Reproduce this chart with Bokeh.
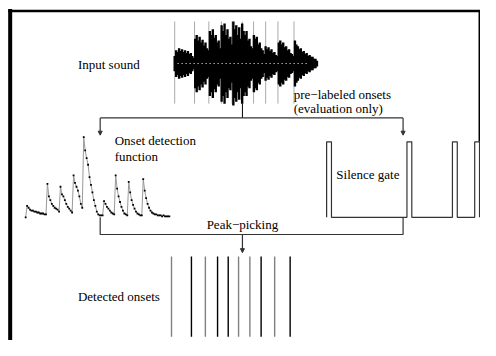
from bokeh.plotting import figure
from bokeh.models import Range1d, Arrow, NormalHead
from bokeh.core.properties import value
from bokeh.embed import file_html
from bokeh.resources import INLINE

# ---------------- data ----------------
# waveform envelope (amplitude), uniformly sampled over the sound
wave_amp = [8, 14, 12, 16, 13, 15, 12, 14, 11, 13, 10, 11, 8, 6,
            26, 30, 24, 28, 22, 25, 19, 22, 16, 14,
            34, 30, 36, 27, 30, 22, 24, 16,
            40, 34, 42, 30, 36, 26, 28, 20,
            44, 36, 40, 30, 38, 26, 42,
            34, 30, 34, 24, 26, 18, 16,
            30, 26, 28, 20, 22, 16, 14, 10,
            18, 15, 17, 13, 15, 11, 12, 9, 8,
            22, 24, 20, 22, 17, 18, 14, 15, 11, 10, 8,
            24, 20, 18, 15, 16, 12, 13, 10, 11, 8, 9, 7, 7, 5, 5, 3]
# pre-labeled onset times (frames from sound start)
labeled_onsets = [0, 20.5, 35.3, 48.3, 59.3, 70, 81.5, 94, 106.7, 123.3]
# detected onset times (frames from sound start)
detected_onsets = [-3.3, 17.3, 31.7, 44.3, 55.3, 66, 77.7, 89.3, 103.3, 119.3]
detected_kind = ["g", "k", "g", "k", "k", "g", "g", "k", "g", "k"]
# onset detection function values
odf_values = [0, 12, 10, 8, 7, 7, 6, 6, 5, 5, 4, 4, 4, 3, 3,
              35, 22, 18, 14, 12, 10, 9, 8, 6,
              32, 24, 22, 18, 14, 11, 9, 7, 5,
              44, 36, 32, 28, 22, 14, 10,
              84, 70, 62, 55, 42, 34, 26, 18, 12, 6, 3, 2, 2, 2,
              17, 14, 11, 9, 7, 5, 4, 3,
              44, 30, 22, 16, 11, 7, 4, 3, 2,
              37, 26, 18, 13, 9, 6, 4, 3, 2, 2,
              40, 28, 20, 14, 10, 7, 5, 4, 3, 3, 2, 2, 2, 1, 2, 1, 1, 1, 1]
# silence gate open intervals (frames)
gate_open = [(0, 5), (83, 88), (130, 135), (153, 158)]

# ---------------- layout constants ----------------
W_X0, W_Y0 = 180.0, 66.0
W_DX = 147.0 / (len(wave_amp) - 1)
ODF_X0, ODF_BASE, ODF_DX = 26.0, 227.0, 1.5
G_X0, G_LO, G_HI = 337.0, 227.0, 148.0
DARK = "#333333"
FONT = value("Liberation Serif")
FS = "13px"

p = figure(width=480, height=340, x_range=Range1d(0, 496), y_range=Range1d(356, 0),
           output_backend="svg", toolbar_location=None, min_border=0)
p.axis.visible = False
p.grid.visible = False
p.outline_line_color = None
p.background_fill_color = "white"

# frame
p.line([10, 10], [9, 360], line_color="black", line_width=4)
p.line([8, 500], [11, 11], line_color="black", line_width=2.5)
p.line([495, 495], [10, 148], line_color="black", line_width=2)

# pre-labeled onsets (under waveform)
lx = [W_X0 + t for t in labeled_onsets]
p.segment(x0=lx, y0=[22] * len(lx), x1=lx, y1=[108] * len(lx), line_color="#aaaaaa", line_width=1)

# waveform
wx = [W_X0 + i * W_DX for i in range(len(wave_amp))]
p.segment(x0=wx, y0=[W_Y0 - a for a in wave_amp], x1=wx, y1=[W_Y0 + a for a in wave_amp],
          line_color="black", line_width=2.4)
p.line([W_X0 + 3, W_X0 + 138], [W_Y0, W_Y0], line_color="white", line_width=1, line_dash="1 3")

# connections from sound
p.line([250, 250], [108, 123], line_color="black", line_width=1)
p.line([103, 416], [123, 123], line_color=DARK, line_width=1.2)
for xx in (103, 416):
    p.add_layout(Arrow(end=NormalHead(size=4, fill_color=DARK, line_color=DARK),
                       x_start=xx, y_start=123, x_end=xx, y_end=141,
                       line_color=DARK, line_width=1.2))

# onset detection function
ox = [ODF_X0 + i * ODF_DX for i in range(len(odf_values))]
oy = [ODF_BASE - v for v in odf_values]
p.line(ox, oy, line_color="#999999", line_width=1)
p.scatter(ox, oy, marker="square", size=1.8, fill_color="black", line_color=None)

# silence gate
gx, gy = [], []
for a, b in gate_open:
    gx += [G_X0 + a, G_X0 + a, G_X0 + b, G_X0 + b]
    gy += [G_LO, G_HI, G_HI, G_LO]
p.line(gx, gy, line_color=DARK, line_width=1.2)

# peak picking bracket
p.line([103, 103, 416, 416], [227, 245, 245, 227], line_color=DARK, line_width=1.2)
p.add_layout(Arrow(end=NormalHead(size=4, fill_color=DARK, line_color=DARK),
                   x_start=250, y_start=245, x_end=250, y_end=264,
                   line_color=DARK, line_width=1.2))

# detected onsets
dx = [W_X0 + t for t in detected_onsets]
cols = ["#808080" if k == "g" else "black" for k in detected_kind]
p.segment(x0=dx, y0=[268] * len(dx), x1=dx, y1=[352] * len(dx), line_color=cols, line_width=1.4)

# texts
tx = [80, 303, 303, 118, 118, 347, 80]
ty = [67, 98, 113, 147, 163, 182, 310]
tt = ["Input sound", "pre\u2212labeled onsets", "(evaluation only)", "Onset detection",
      "function", "Silence gate", "Detected onsets"]
p.text(tx, ty, text=tt, text_font=FONT, text_font_size=FS, text_color="black",
       text_baseline="middle", text_align="left")
p.text([250], [235], text=["Peak\u2212picking"], text_font=FONT, text_font_size=FS,
       text_color="black", text_baseline="middle", text_align="center")

open("out.html", "w").write(file_html(p, INLINE))
